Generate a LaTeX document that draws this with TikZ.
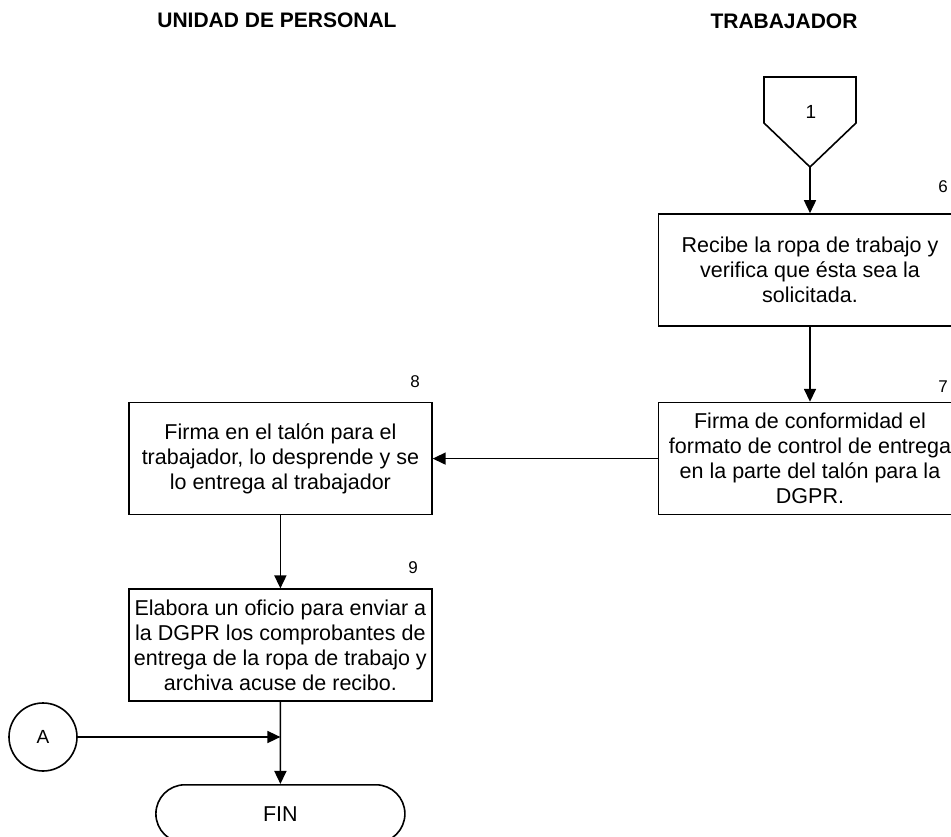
\documentclass[tikz,border=0pt]{standalone}
\usepackage{fontspec}
\setmainfont{Liberation Sans}
\usetikzlibrary{arrows.meta, positioning, shapes.misc}
\tikzset{
    procbox/.style={rectangle, draw=black, line width=1.6pt, minimum width=303pt, minimum height=112pt, inner sep=0pt, align=center, font=\fontsize{21.5}{25}\selectfont},
    stepnum/.style={inner sep=0pt, font=\fontsize{17}{19}\selectfont},
    lanetitle/.style={inner sep=0pt, font=\fontsize{21}{24}\selectfont\bfseries},
    arrow/.style={-{Triangle[length=13pt, width=12pt]}, line width=1.6pt, black},
}

\begin{document}
\begin{tikzpicture}[
    x=1pt, y=-1pt,
    connector/.style={circle, draw, line width=1.6pt, minimum size=68pt, inner sep=0pt, font=\fontsize{19}{22}\selectfont},
    endbox/.style={rounded rectangle, draw, line width=1.6pt, minimum width=249pt, minimum height=58pt, inner sep=0pt, font=\fontsize{21.5}{25}\selectfont}
]
\useasboundingbox (0,0) rectangle (951,837);

% Lane headings
\node[lanetitle] (unidad-title) at (277,20) {UNIDAD DE PERSONAL};
\node[lanetitle] (trab-title) at (784,21) {TRABAJADOR};

% Off-page connector
\coordinate (con1-tip) at (810,167);
\draw[line width=1.6pt] (764,77) -- (856,77) -- (856,123) -- (con1-tip) -- (764,123) -- cycle;
\node[font=\fontsize{19}{22}\selectfont] (con1) at (811,112) {1};

% Trabajador steps
\node[procbox] (step6) at (810,270) {Recibe la ropa de trabajo y\\verifica que ésta sea la\\solicitada.};
\node[procbox, below=75pt of step6] (step7) {Firma de conformidad el\\formato de control de entrega\\en la parte del talón para la\\DGPR.};
\node[stepnum] (num6) at (943,187) {6};
\node[stepnum] (num7) at (943,387) {7};

% Unidad de personal steps
\node[procbox, left=225pt of step7] (step8) {Firma en el talón para el\\trabajador, lo desprende y se\\lo entrega al trabajador};
\node[procbox, below=73pt of step8] (step9) {Elabora un oficio para enviar a\\la DGPR los comprobantes de\\entrega de la ropa de trabajo y\\archiva acuse de recibo.};
\node[stepnum] (num8) at (415,382) {8};
\node[stepnum] (num9) at (413,568) {9};

% Connector A and end
\node[connector] (conA) at (43,737) {A};
\node[endbox, below=82pt of step9] (fin) {FIN};

% Arrows
\draw[arrow] (con1-tip) -- (step6.north);
\draw[arrow] (step6) -- (step7);
\draw[arrow] (step7) -- (step8);
\draw[arrow] (step8) -- (step9);
\draw[arrow] (step9) -- (fin);
\draw[arrow] (conA.east) -- (conA.east -| fin.north);

\end{tikzpicture}
\end{document}
